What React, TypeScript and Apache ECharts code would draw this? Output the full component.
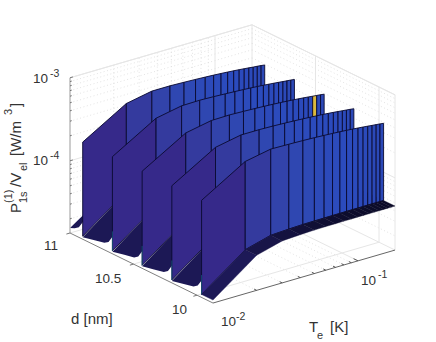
import React, { useEffect, useRef } from "react";
import * as echarts from "echarts";

const temperatures = [0.01, 0.02, 0.03, 0.04, 0.05, 0.06, 0.07, 0.08, 0.09, 0.1, 0.11, 0.12, 0.13, 0.14, 0.15, 0.16, 0.17, 0.18];
const wallThickness = [10.9, 10.666, 10.432, 10.198, 9.964];
const hiddenWallThickness = 11.134;
const wallTops = [
  [-3.7, -3.388, -3.328, -3.328, -3.334, -3.34, -3.346, -3.352, -3.358, -3.364, -3.37, -3.376, -3.382, -3.388, -3.394, -3.398, -3.403, -3.409],
  [-3.7, -3.39, -3.33, -3.326, -3.332, -3.339, -3.345, -3.351, -3.357, -3.363, -3.369, -3.375, -3.381, -3.387, -3.393, -3.398, -3.402, -3.408],
  [-3.7, -3.392, -3.332, -3.328, -3.334, -3.34, -3.346, -3.352, -3.358, -3.364, -3.37, -3.376, -3.382, -3.388, -3.394, -3.399, -3.404, -3.41],
  [-3.7, -3.39, -3.33, -3.33, -3.335, -3.341, -3.347, -3.353, -3.359, -3.365, -3.37, -3.376, -3.382, -3.388, -3.394, -3.399, -3.404, -3.41],
  [-3.7, -3.385, -3.325, -3.33, -3.335, -3.341, -3.347, -3.353, -3.359, -3.365, -3.371, -3.377, -3.383, -3.389, -3.395, -3.4, -3.405, -3.41],
];
const wallBase = [-4.834, -4.448, -4.364, -4.352, -4.346, -4.344, -4.343, -4.342, -4.342, -4.341, -4.341, -4.341, -4.34, -4.34, -4.34, -4.34, -4.34, -4.34];
// Height of the T = 0.01 edge between two walls: fraction of the way to next wall, log10 P
const gapEdgeFraction = [0, 0.4, 0.73, 0.87, 1];
const gapEdgeLog = [-4.846, -4.813, -4.786, -4.75, -4.665];
const zMajorTicks = [-4, -3];
const zMinorMultipliers = [2, 3, 4, 5, 6, 7, 8, 9];
const dMajorTicks = [11, 10.5, 10];
const tMinorTicks = [0.02, 0.03, 0.04, 0.05, 0.06, 0.07, 0.08, 0.09, 0.1];

const LOGT_MIN = -2;
const LOGT_MAX = Math.log10(0.18);
const D_MAX = 11;
const D_MIN = 9.874;
const Z_MIN = -4.87;
const Z_MAX = -3;

const cellColors = ["#36298a", "#343a9e", "#3243aa", "#2f47b1", "#2e49b5", "#2d4ab8", "#2c4aba", "#2c4bbc", "#2b4bbd", "#2b4bbd", "#2b4bbd", "#2b4abc", "#2b4abc", "#2b4abb", "#2b49b9", "#2b49b8", "#2b48b7"];
const bandColors = ["#1d1957", "#181548", "#14123f", "#121039", "#100f35", "#0f0e32", "#0e0d30", "#0e0d2e", "#0d0d2d", "#0d0c2c", "#0d0c2b", "#0c0c2b", "#0c0c2a", "#0c0c2a", "#0c0b29", "#0c0b29", "#0c0b28"];
const GAP_COLOR = "#1c1855";
const EDGE = "#0a0a30";
const TEAL = "#14607f";
const GRID = "#e6e6e6";
const DOT = "#dcdcdc";

type P3 = [number, number, number];
const project = (logT: number, d: number, z: number): [number, number] => {
  const t = logT - LOGT_MIN;
  const k = D_MAX - d;
  return [70 + 127 * k + 145 * t, 233 + 62.2 * k - 42.2 * t - 83 * (z - Z_MIN)];
};
const lt = (t: number) => Math.log10(t);

type Mark = { pts: P3[]; fill?: string; stroke?: string; width?: number; dash?: number[] };

const backMarks: Mark[] = [];
const line = (a: P3, b: P3, stroke: string, width = 0.8, dash?: number[]) => ({ pts: [a, b], stroke, width, dash });

const zLevels: { z: number; major: boolean }[] = [];
[-5, -4].forEach((k) => {
  zMinorMultipliers.forEach((m) => {
    const z = k + Math.log10(m);
    if (z > Z_MIN) zLevels.push({ z, major: false });
  });
});
zMajorTicks.forEach((z) => zLevels.push({ z, major: true }));
zLevels.forEach(({ z, major }) => {
  const c = major ? GRID : DOT;
  const w = major ? 1 : 0.8;
  const dash = major ? undefined : [1, 2.5];
  backMarks.push(line([LOGT_MIN, D_MAX, z], [LOGT_MAX, D_MAX, z], c, w, dash));
  backMarks.push(line([LOGT_MAX, D_MAX, z], [LOGT_MAX, D_MIN, z], c, w, dash));
});
tMinorTicks.forEach((t) => {
  const major = t === 0.1;
  const c = major ? GRID : DOT;
  const w = major ? 1 : 0.8;
  const dash = major ? undefined : [1, 2.5];
  backMarks.push(line([lt(t), D_MAX, Z_MIN], [lt(t), D_MAX, Z_MAX], c, w, dash));
  backMarks.push(line([lt(t), D_MAX, Z_MIN], [lt(t), D_MIN, Z_MIN], c, w, dash));
});
dMajorTicks.slice(1).forEach((d) => {
  backMarks.push(line([LOGT_MAX, d, Z_MIN], [LOGT_MAX, d, Z_MAX], GRID, 1));
  backMarks.push(line([LOGT_MIN, d, Z_MIN], [LOGT_MAX, d, Z_MIN], GRID, 1));
});
backMarks.push(line([LOGT_MAX, D_MAX, Z_MIN], [LOGT_MAX, D_MAX, Z_MAX], GRID, 1));
backMarks.push(line([LOGT_MIN, D_MAX, Z_MAX], [LOGT_MAX, D_MAX, Z_MAX], GRID, 1));
backMarks.push(line([LOGT_MAX, D_MAX, Z_MAX], [LOGT_MAX, D_MIN, Z_MAX], GRID, 1));
backMarks.push(line([LOGT_MAX, D_MAX, Z_MIN], [LOGT_MAX, D_MIN, Z_MIN], GRID, 1));
backMarks.push(line([LOGT_MIN, D_MAX, Z_MIN], [LOGT_MAX, D_MAX, Z_MIN], GRID, 1));
backMarks.push(line([LOGT_MAX, D_MIN, Z_MIN], [LOGT_MAX, D_MIN, Z_MAX], GRID, 1));

const surfaceMarks: Mark[] = [];
const pushGap = (dFrom: number, dTo: number, clipAt?: number) => {
  const dStart = clipAt ?? dFrom;
  const edge: P3[] = [];
  if (clipAt !== undefined) edge.push([LOGT_MIN, clipAt, -4.81]);
  gapEdgeFraction.forEach((f, i) => {
    const d = dFrom + (dTo - dFrom) * f;
    if (d <= dStart) edge.push([LOGT_MIN, d, gapEdgeLog[i]]);
  });
  surfaceMarks.push({
    pts: [...edge, [lt(0.02), dTo, wallBase[1]], [lt(0.02), dStart, wallBase[1]]],
    fill: GAP_COLOR,
  });
  for (let j = 1; j < temperatures.length - 1; j++) {
    surfaceMarks.push({
      pts: [
        [lt(temperatures[j]), dStart, wallBase[j]],
        [lt(temperatures[j + 1]), dStart, wallBase[j + 1]],
        [lt(temperatures[j + 1]), dTo, wallBase[j + 1]],
        [lt(temperatures[j]), dTo, wallBase[j]],
      ],
      fill: GAP_COLOR,
    });
  }
};
pushGap(hiddenWallThickness, wallThickness[0], D_MAX);
wallThickness.forEach((d, w) => {
  for (let j = 0; j < temperatures.length - 1; j++) {
    const isHot = w === 2 && temperatures[j] === 0.15;
    surfaceMarks.push({
      pts: [
        [lt(temperatures[j]), d, wallBase[j]],
        [lt(temperatures[j]), d, wallTops[w][j]],
        [lt(temperatures[j + 1]), d, wallTops[w][j + 1]],
        [lt(temperatures[j + 1]), d, wallBase[j + 1]],
      ],
      fill: isHot ? "#dcb93c" : cellColors[j],
      stroke: EDGE,
      width: 0.9,
    });
  }
  if (w < wallThickness.length - 1) pushGap(d, wallThickness[w + 1]);
  if (w > 0) surfaceMarks.push(line([LOGT_MIN, d, wallBase[0]], [LOGT_MIN, d, -4.6], TEAL, 0.7));
});
for (let j = 0; j < temperatures.length - 1; j++) {
  const d = wallThickness[4];
  surfaceMarks.push({
    pts: [
      [lt(temperatures[j]), d, wallBase[j]],
      [lt(temperatures[j + 1]), d, wallBase[j + 1]],
      [lt(temperatures[j + 1]), D_MIN, wallBase[j + 1]],
      [lt(temperatures[j]), D_MIN, wallBase[j]],
    ],
    fill: bandColors[j],
    stroke: bandColors[j],
    width: 0.4,
  });
}

const axisMarks: Mark[] = [];
const AX_Z = "#9a9a9a";
const AX_D = "#808080";
const AX_T = "#666666";
axisMarks.push(line([LOGT_MIN, D_MAX, Z_MIN], [LOGT_MIN, D_MAX, Z_MAX], AX_Z, 1));
axisMarks.push(line([LOGT_MIN, D_MAX, Z_MIN], [LOGT_MIN, D_MIN, Z_MIN], AX_D, 1));
axisMarks.push(line([LOGT_MIN, D_MIN, Z_MIN], [LOGT_MAX, D_MIN, Z_MIN], AX_T, 1));
zLevels.forEach(({ z, major }) => {
  axisMarks.push(line([LOGT_MIN, D_MAX, z], [LOGT_MIN + (major ? 0.02 : 0.012), D_MAX, z], "#777777", 1));
});
dMajorTicks.forEach((d) => {
  axisMarks.push(line([LOGT_MIN, d, Z_MIN], [LOGT_MIN - 0.025, d, Z_MIN], "#777777", 1));
});
tMinorTicks.forEach((t) => {
  axisMarks.push(line([lt(t), D_MIN, Z_MIN], [lt(t), D_MIN + (t === 0.1 ? 0.035 : 0.02), Z_MIN], "#555555", 1));
});

const renderMarks = (marks: Mark[]) => (_params: any, api: any) => {
  const m = marks[api.value(0)];
  const points = m.pts.map((p) => api.coord(project(p[0], p[1], p[2])));
  if (m.fill) {
    return {
      type: "polygon",
      shape: { points },
      style: { fill: m.fill, stroke: m.stroke ?? "none", lineWidth: m.width ?? 0 },
      silent: true,
    };
  }
  return {
    type: "polyline",
    shape: { points },
    style: { fill: "none", stroke: m.stroke, lineWidth: m.width ?? 1, lineDash: m.dash },
    silent: true,
  };
};

const series = (name: string, marks: Mark[], z: number) => ({
  type: "custom",
  name,
  coordinateSystem: "cartesian2d",
  data: marks.map((_, i) => [i]),
  encode: { x: 0 },
  renderItem: renderMarks(marks),
  clip: false,
  silent: true,
  z,
});

const FONT = "'Liberation Sans', Arial, sans-serif";
const INK = "#333333";
const txt = (text: string, x: number, y: number, size: number, rotation = 0) => ({
  type: "text",
  x,
  y,
  rotation,
  silent: true,
  style: { text, fontFamily: FONT, fontSize: size, fill: INK, textAlign: "left", textVerticalAlign: "middle" },
  z: 20,
});
const R = Math.PI / 2;
const labels = [
  txt("10", 33, 78, 13.5),
  txt("-3", 50, 73, 10.5),
  txt("10", 33, 160, 13.5),
  txt("-4", 50, 155, 10.5),
  txt("11", 44, 245, 13.5),
  txt("10.5", 95, 278, 13.5),
  txt("10", 172, 309, 13.5),
  txt("d [nm]", 71, 318, 15),
  txt("10", 221, 321, 13.5),
  txt("-2", 236, 316, 10.5),
  txt("10", 361, 280, 13.5),
  txt("-1", 378, 274, 10.5),
  txt("T", 309, 326, 15),
  txt("e", 317, 335, 11),
  txt("[K]", 330, 326, 15),
  txt("P", 15, 213, 15, R),
  txt("(1)", 8, 203, 11, R),
  txt("1s", 23, 203, 11, R),
  txt("/V", 15, 187, 15, R),
  txt("el", 23, 171, 11, R),
  txt("[W/m", 15, 156, 15, R),
  txt("3", 8, 115, 11, R),
  txt("]", 15, 107, 15, R),
];

export default function App() {
  const ref = useRef<HTMLDivElement>(null);
  useEffect(() => {
    const chart = echarts.init(ref.current!, undefined, { renderer: "svg" });
    chart.setOption({
      animation: false,
      backgroundColor: "#ffffff",
      grid: { left: 0, right: 0, top: 0, bottom: 0 },
      xAxis: { type: "value", min: 0, max: 436, show: false },
      yAxis: { type: "value", min: 0, max: 342, inverse: true, show: false },
      series: [series("grid", backMarks, 1), series("surface", surfaceMarks, 2), series("axes", axisMarks, 3)],
      graphic: { elements: labels },
    });
    return () => chart.dispose();
  }, []);
  return <div ref={ref} style={{ position: "absolute", left: 0, top: 0, width: 436, height: 342 }} />;
}
